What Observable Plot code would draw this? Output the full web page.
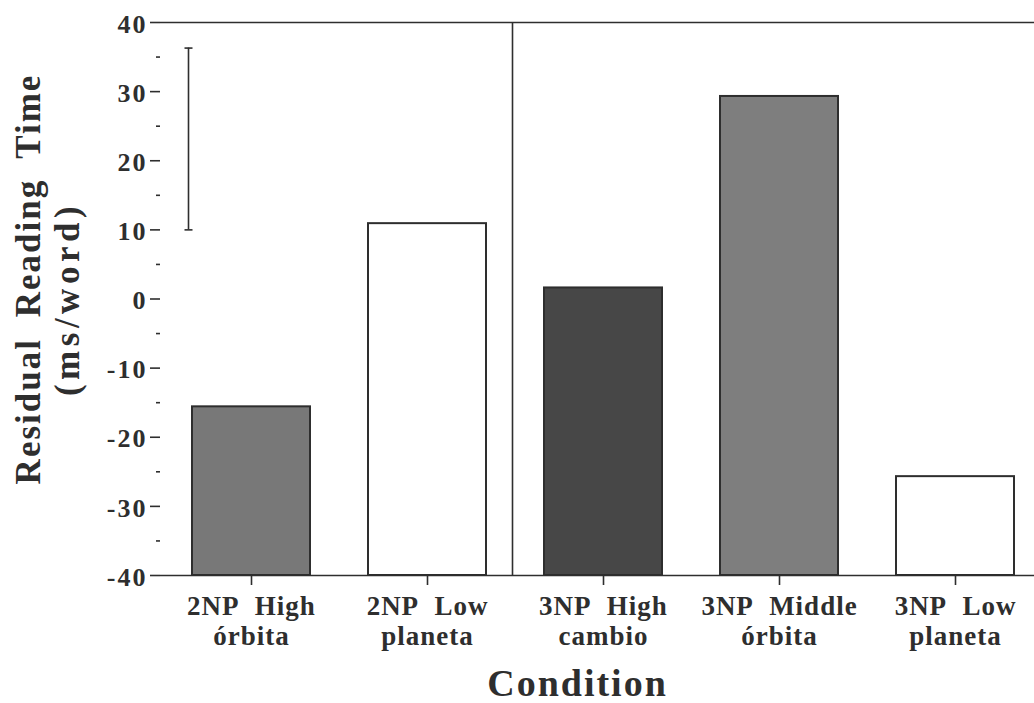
<!DOCTYPE html>
<html><head><meta charset="utf-8">
<script src="https://cdn.jsdelivr.net/npm/d3@7"></script>
<script src="https://cdn.jsdelivr.net/npm/@observablehq/plot@0.6"></script>
<style>
html,body{margin:0;padding:0;background:#fff;overflow:hidden}
</style></head><body><div id="chart"></div>
<script>
const categories = ["2NP High órbita", "2NP Low planeta", "3NP High cambio", "3NP Middle órbita", "3NP Low planeta"];
const tickLabels = ["2NP High\nórbita", "2NP Low\nplaneta", "3NP High\ncambio", "3NP Middle\nórbita", "3NP Low\nplaneta"];
const values = [-15.6, 10.9, 1.6, 29.3, -25.7];
const fills = ["#787878", "#ffffff", "#474747", "#7e7e7e", "#ffffff"];
const yTicks = [-40, -30, -20, -10, 0, 10, 20, 30, 40];
const yMinorTicks = [-35, -25, -15, -5, 5, 15, 25, 35];
const errorBar = {category: "2NP High órbita", low: 10, high: 36.3};
const yLabelLines = ["Residual Reading Time", "(ms/word)"];
const xLabel = "Condition";
const dividerAfter = "2NP Low planeta";

const data = categories.map((c, i) => ({category: c, value: values[i], fill: fills[i]}));
const labelOf = new Map(categories.map((c, i) => [c, tickLabels[i]]));
const hbar = {draw(ctx, size) { const r = Math.sqrt(size / Math.PI); ctx.moveTo(-r, 0); ctx.lineTo(r, 0); }};
const ink = "#2e2e2e";
const font = '"Liberation Serif", "Times New Roman", serif';

const chart = Plot.plot({
  width: 1034, height: 703,
  marginLeft: 160, marginRight: 0, marginTop: 22, marginBottom: 128,
  style: {fontFamily: font, color: ink, background: "#fff", overflow: "hidden"},
  x: {domain: categories, range: [162, 1044], paddingInner: 0.33, paddingOuter: 0.165, axis: null, label: null},
  y: {domain: [-40, 40], axis: null, label: null},
  color: {type: "identity"},
  marks: [
    Plot.barY(data, {x: "category", y1: -40, y2: "value", fill: "fill", stroke: ink, strokeWidth: 2}),
    Plot.ruleY([40, -40], {stroke: ink, strokeWidth: 1.6}),
    Plot.ruleX([dividerAfter], {dx: 85, stroke: ink, strokeWidth: 1.6}),
    Plot.ruleX([errorBar], {x: "category", y1: "low", y2: "high", dx: -63, stroke: ink, strokeWidth: 1.6}),
    Plot.dot([errorBar.low, errorBar.high], {x: () => errorBar.category, y: d => d, symbol: hbar, r: 4, dx: -63, stroke: ink, strokeWidth: 1.6}),
    Plot.axisY({ticks: yTicks, label: null, tickSize: 10, tickPadding: 3, tickFormat: d => String(d), fontSize: 26, fontWeight: "bold", line: true, stroke: ink, strokeWidth: 1.6, fill: ink}),
    Plot.axisY({ticks: yMinorTicks, label: null, tickSize: 4, tickFormat: () => "", stroke: ink, strokeWidth: 1.6}),
    Plot.axisX({label: null, tickSize: 10, tickPadding: 8, fontSize: 27, fontWeight: "bold", lineHeight: 1.11, tickFormat: c => labelOf.get(c), stroke: ink, strokeWidth: 1.6, fill: ink}),
    Plot.text([yLabelLines[0]], {text: d => d, frameAnchor: "left", textAnchor: "middle", rotate: -90, dx: -121, dy: -20, lineAnchor: "bottom", fontSize: 35, fontWeight: "bold", fill: ink}),
    Plot.text([yLabelLines[1]], {text: d => d, frameAnchor: "left", textAnchor: "middle", rotate: -90, dx: -82, dy: 0, lineAnchor: "bottom", fontSize: 35, fontWeight: "bold", fill: ink}),
    Plot.text([xLabel], {text: d => d, frameAnchor: "bottom", textAnchor: "middle", dx: -20, dy: 120, lineAnchor: "bottom", fontSize: 38, fontWeight: "bold", fill: ink})
  ]
});

const textGroups = chart.querySelectorAll('g[aria-label="text"]');
const spacing = [["2px", "10px"], ["4.5px", "0px"], ["2px", "0px"]];
textGroups.forEach((g, i) => {
  if (spacing[i]) { g.style.letterSpacing = spacing[i][0]; g.style.wordSpacing = spacing[i][1]; }
});
chart.querySelectorAll('g[aria-label="y-axis tick label"]').forEach(g => {
  g.style.letterSpacing = "2px"; g.style.fontSize = "26px";
  g.querySelectorAll("text").forEach(t => { t.style.fontSize = "26px"; t.setAttribute("dy", "0.07em"); });
});
chart.querySelectorAll('g[aria-label="x-axis tick label"]').forEach(g => {
  g.style.letterSpacing = "1px"; g.style.wordSpacing = "9px"; g.style.fontSize = "27px";
});

document.getElementById("chart").appendChild(chart);
</script></body></html>
